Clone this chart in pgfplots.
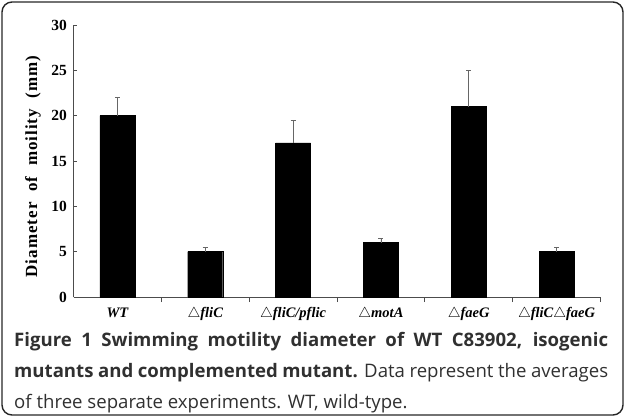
\documentclass[border=0pt]{standalone}
\usepackage{pgfplots}
\pgfplotsset{compat=1.18}
\usepackage{fontspec}
\setmainfont{Liberation Serif}
\newfontfamily\capfont{Open Sans}
\newfontfamily\labfont[LetterSpace=6]{Liberation Serif}
\definecolor{captext}{HTML}{303030}
\begin{document}
\begin{tikzpicture}[x=1pt,y=1pt]
\useasboundingbox (0,0) rectangle (625,-418);
\draw[line width=1.4pt, black!85, rounded corners=10pt] (2,-2) rectangle (623,-415);
\begin{axis}[
  at={(73.5pt,-297pt)}, anchor=south west,
  scale only axis, width=527pt, height=272pt,
  xmin=-0.5, xmax=5.5, ymin=0, ymax=30,
  axis x line=bottom, axis y line=left,
  axis line style={-, black!70, line width=0.8pt},
  tick align=inside,
  ytick={0,5,...,30},
  major tick length=4pt,
  tick style={black!70, line width=0.7pt},
  xtick={0,...,5},
  major x tick style={draw=none},
  minor xtick={0.5,1.5,...,5.5},
  minor tick length=5pt,
  /pgf/number format/assume math mode=true,
  xticklabels={WT,$\triangle$fliC,$\triangle$fliC/pflic,$\triangle$motA,$\triangle$faeG,$\triangle$fliC$\triangle$faeG},
  xticklabel style={font=\fontsize{14.5}{14.5}\selectfont\bfseries\itshape, yshift=-3pt},
  yticklabel style={font=\fontsize{15.5}{15.5}\selectfont\bfseries, xshift=-3pt},
  ylabel={Diameter\ \ of\ \ moility\ \ (mm)},
  every axis y label/.style={at={(axis description cs:-0.077,0.48)}, rotate=90, anchor=center, font=\labfont\fontsize{17}{17}\selectfont\bfseries},
  ybar, bar width=35pt,
  clip=false,
]
\addplot[fill=black, draw=black,
  error bars/.cd, y dir=plus, y explicit,
  error bar style={black!60, line width=0.7pt},
  error mark options={rotate=90, mark size=2.5pt, black!60, line width=0.7pt}]
  table[x=x, y=y, y error=e] {
x y e
0 20 2
1 5 0.5
2 17 2.5
3 6 0.5
4 21 4
5 5 0.5
};
\end{axis}
\node[anchor=north west, inner sep=0pt, align=left, text=captext,
  font=\capfont\fontsize{18.6}{31}\selectfont] at (14,-332)
  {\makebox[594pt][s]{\textbf{Figure 1 Swimming motility diameter of WT C83902, isogenic}}\\
   \makebox[594pt][s]{\textbf{mutants and complemented mutant.} Data represent the averages}\\
   of three separate experiments. WT, wild-type.};
\end{tikzpicture}
\end{document}
